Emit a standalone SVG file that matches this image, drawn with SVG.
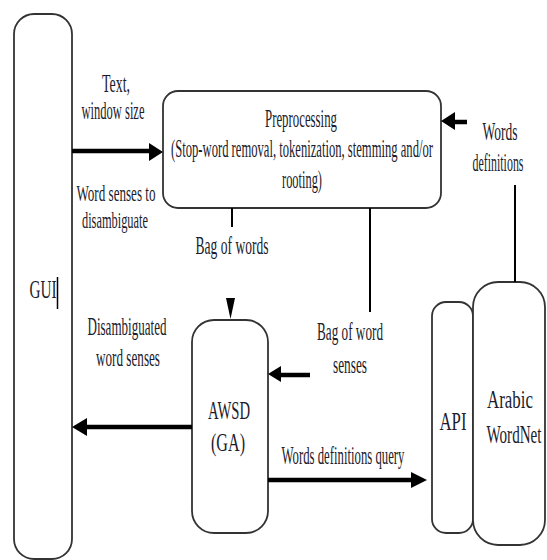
<svg xmlns="http://www.w3.org/2000/svg" width="547" height="560" viewBox="0 0 547 560">
<style>
.box{fill:#fff;stroke:#333;stroke-width:1.8}
.t{font-family:"Liberation Serif","Times New Roman",serif;font-size:25px;fill:#1c1c2c;text-anchor:middle}
.s{font-size:24px}
.thick{stroke:#000;stroke-width:4.5;fill:none}
.thin{stroke:#000;stroke-width:2;fill:none}
.head{fill:#000}
</style>
<rect width="547" height="560" fill="#fff"/>
<g id="gui">
<rect class="box" x="14" y="14" width="58" height="545" rx="20"/>
<text class="t" transform="scale(0.6 1)" x="71.67" y="298" textLength="45" lengthAdjust="spacingAndGlyphs">GUI</text>
<line x1="57.5" y1="277" x2="57.5" y2="309" stroke="#000" stroke-width="1.5"/>
</g>
<g id="preprocessing">
<rect class="box" x="163" y="91" width="278" height="117" rx="15"/>
<text class="t" transform="scale(0.6 1)" x="501.67" y="127" textLength="120" lengthAdjust="spacingAndGlyphs">Preprocessing</text>
<text class="t" transform="scale(0.6 1)" x="503.33" y="157" textLength="436.67" lengthAdjust="spacingAndGlyphs">(Stop-word removal, tokenization, stemming and/or</text>
<text class="t" transform="scale(0.6 1)" x="503.33" y="188" textLength="66.67" lengthAdjust="spacingAndGlyphs">rooting)</text>
</g>
<g id="awsd">
<rect class="box" x="192" y="320" width="76" height="213" rx="22"/>
<text class="t" transform="scale(0.6 1)" x="381.67" y="419" textLength="70" lengthAdjust="spacingAndGlyphs">AWSD</text>
<text class="t" transform="scale(0.6 1)" x="380" y="451" textLength="56.67" lengthAdjust="spacingAndGlyphs">(GA)</text>
</g>
<g id="api">
<rect class="box" x="432" y="302" width="41" height="231" rx="14"/>
<text class="t" transform="scale(0.6 1)" x="755" y="430" textLength="45" lengthAdjust="spacingAndGlyphs">API</text>
</g>
<g id="arabic-wordnet">
<rect class="box" x="473" y="282" width="72" height="263" rx="25"/>
<text class="t" transform="scale(0.6 1)" x="850" y="408" textLength="76.67" lengthAdjust="spacingAndGlyphs">Arabic</text>
<text class="t" transform="scale(0.6 1)" x="856.67" y="443" textLength="91.67" lengthAdjust="spacingAndGlyphs">WordNet</text>
</g>
<g id="connectors">
<line class="thick" x1="72" y1="151" x2="152" y2="151"/>
<polygon class="head" points="163,152 149,143 149,161"/>
<text class="t" transform="scale(0.6 1)" x="193.33" y="92" textLength="46.67" lengthAdjust="spacingAndGlyphs">Text,</text>
<text class="t" transform="scale(0.6 1)" x="188.33" y="119" textLength="105" lengthAdjust="spacingAndGlyphs">window size</text>
<text class="t s" transform="scale(0.6 1)" x="193.33" y="201" textLength="131.67" lengthAdjust="spacingAndGlyphs">Word senses to</text>
<text class="t s" transform="scale(0.6 1)" x="191.67" y="228" textLength="110" lengthAdjust="spacingAndGlyphs">disambiguate</text>
<line class="thin" x1="232" y1="208" x2="232" y2="227" stroke-width="1.5"/>
<text class="t" transform="scale(0.6 1)" x="386.67" y="254" textLength="121.67" lengthAdjust="spacingAndGlyphs">Bag of words</text>
<polygon class="head" points="226,298 235,298 230.5,319"/>
<line class="thin" x1="370" y1="208" x2="370" y2="312" stroke-width="2.5"/>
<text class="t" transform="scale(0.6 1)" x="583.33" y="340" textLength="110" lengthAdjust="spacingAndGlyphs">Bag of word</text>
<text class="t" transform="scale(0.6 1)" x="583.33" y="373" textLength="56.67" lengthAdjust="spacingAndGlyphs">senses</text>
<line class="thick" x1="310" y1="375" x2="279" y2="375"/>
<polygon class="head" points="268,374 281,366 281,382"/>
<line class="thick" x1="192" y1="427" x2="84" y2="427"/>
<polygon class="head" points="72,427 87,418 87,436"/>
<text class="t" transform="scale(0.6 1)" x="211.67" y="335" textLength="131.67" lengthAdjust="spacingAndGlyphs">Disambiguated</text>
<text class="t" transform="scale(0.6 1)" x="213.33" y="366" textLength="106.67" lengthAdjust="spacingAndGlyphs">word senses</text>
<line class="thick" x1="268" y1="480" x2="414" y2="480" stroke-width="4"/>
<polygon class="head" points="427,480 411,472 411,488"/>
<text class="t" transform="scale(0.6 1)" x="571.67" y="464" textLength="205" lengthAdjust="spacingAndGlyphs">Words definitions query</text>
<line class="thin" x1="515" y1="185" x2="515" y2="282" stroke-width="2.5"/>
<text class="t" transform="scale(0.6 1)" x="833.33" y="140" textLength="58.33" lengthAdjust="spacingAndGlyphs">Words</text>
<text class="t" transform="scale(0.6 1)" x="830" y="171" textLength="85" lengthAdjust="spacingAndGlyphs">definitions</text>
<line class="thick" x1="467" y1="122" x2="452" y2="122"/>
<polygon class="head" points="441,121 455,112 455,130"/>
</g>
</svg>
